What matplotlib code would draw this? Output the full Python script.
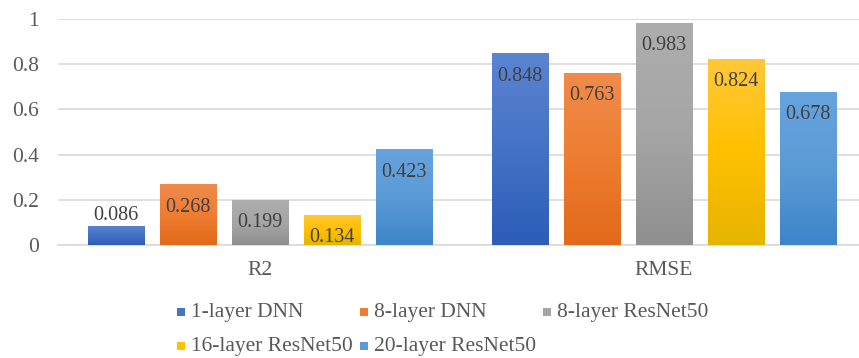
import matplotlib
matplotlib.use("Agg")
import matplotlib.pyplot as plt
import numpy as np
from matplotlib.patches import Rectangle
from matplotlib.colors import LinearSegmentedColormap

categories = ["R2", "RMSE"]
series = ["1-layer DNN", "8-layer DNN", "8-layer ResNet50", "16-layer ResNet50", "20-layer ResNet50"]
values = [
    [0.086, 0.848],
    [0.268, 0.763],
    [0.199, 0.983],
    [0.134, 0.824],
    [0.423, 0.678],
]
yticks = [0, 0.2, 0.4, 0.6, 0.8, 1]
ytick_labels = ["0", "0.2", "0.4", "0.6", "0.8", "1"]

base_colors = ["#4472c4", "#ed7d31", "#a5a5a5", "#ffc000", "#5b9bd5"]
top_colors = ["#5b84d2", "#f08b4c", "#adadad", "#ffc83a", "#67a3de"]
bot_colors = ["#2d5cb9", "#e2691a", "#8f8f8f", "#e6b400", "#3c85c9"]

plt.rcParams['font.family'] = ['Liberation Serif', 'DejaVu Serif']
W, H = 859, 358
fig = plt.figure(figsize=(W / 100, H / 100), dpi=100)

left_px, right_px = 58, 859
bottom_px, top_px = 245, 19
ax = fig.add_axes([left_px / W, 1 - bottom_px / H, (right_px - left_px) / W, (bottom_px - top_px) / H])

cat_px = 404.0
step = 72 / cat_px
width = 57 / cat_px
x = np.arange(len(categories))
xlim = (-0.5, -0.5 + (right_px - left_px) / cat_px)

grad = np.linspace(0, 1, 256).reshape(-1, 1)
for i, (name, vals) in enumerate(zip(series, values)):
    pos = x + (i - 2) * step
    bars = ax.bar(pos, vals, width=width, color=base_colors[i], label=name, zorder=2)
    cmap = LinearSegmentedColormap.from_list("g%d" % i, [bot_colors[i], base_colors[i], top_colors[i]])
    for b, v in zip(bars, vals):
        x0 = b.get_x()
        im = ax.imshow(grad, extent=[x0, x0 + b.get_width(), 0, v], origin="lower",
                       aspect="auto", cmap=cmap, zorder=3)
        im.set_clip_path(b)
        if v < 0.1:
            ax.annotate(f"{v:.3f}", (x0 + b.get_width() / 2, v), xytext=(0, 7.5),
                        textcoords="offset points", ha="center", va="center",
                        fontsize=14.5, color="#404040", zorder=4)
        else:
            ax.annotate(f"{v:.3f}", (x0 + b.get_width() / 2, v), xytext=(0, -16.5),
                        textcoords="offset points", ha="center", va="center",
                        fontsize=14.5, color="#404040", zorder=4)

ax.set_xlim(*xlim)
ax.set_ylim(0, 1)
ax.set_yticks(yticks)
ax.set_yticklabels(ytick_labels)
ax.set_xticks(x)
ax.set_xticklabels(categories)
ax.tick_params(axis="y", length=0, pad=13.5, labelsize=15.5, labelcolor="#595959")
ax.tick_params(axis="x", length=0, pad=11.5, labelsize=15.5, labelcolor="#595959")
ax.grid(axis="y", color="#d9d9d9", linewidth=1.2, zorder=0)
ax.set_axisbelow(True)
for s in ["top", "right", "left"]:
    ax.spines[s].set_visible(False)
ax.spines["bottom"].set_color("#d9d9d9")
ax.spines["bottom"].set_linewidth(1.2)

# legend (manual, two rows)
legend_pos = [(177, 312), (360, 312), (543, 312), (177, 346), (360, 346)]
for i, (name, (mx, my)) in enumerate(zip(series, legend_pos)):
    fig.patches.append(Rectangle((mx / W, 1 - (my + 4) / H), 8 / W, 8 / H,
                                 transform=fig.transFigure, facecolor=base_colors[i],
                                 edgecolor="none"))
    fig.text((mx + 14) / W, 1 - my / H, name, ha="left", va="center",
             fontsize=15.5, color="#595959")

fig.savefig("out.png", dpi=100)
